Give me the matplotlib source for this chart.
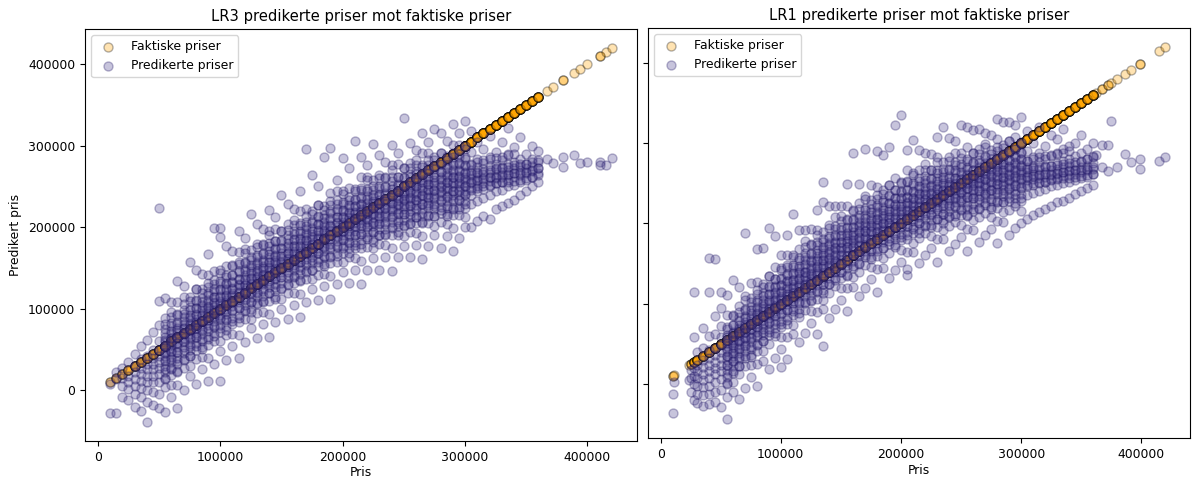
import matplotlib.pyplot as plt

# Priser i tusen kroner. Hver kolonne: faktisk pris og de predikerte prisene for den
lr3_pris = [10, 15, 20, 25, 30, 35, 40, 45, 50, 55, 60, 65, 70, 75, 80, 85, 90, 95,
            100, 105, 110, 115, 120, 125, 130, 135, 140, 145, 150, 155, 160, 165,
            170, 175, 180, 185, 190, 195, 200, 205, 210, 215, 220, 225, 230, 235,
            240, 245, 250, 255, 260, 265, 270, 275, 280, 285, 290, 295, 300, 305,
            310, 315, 320, 325, 330, 335, 340, 345, 350, 355, 360, 367, 372, 380,
            389, 394, 400, 410, 415, 420]
lr3_pred = [
    [-28, 8], [-28, 14, 22], [-8, 6, 15, 28], [-12, 2, 10, 18, 35],
    [-20, -4, 6, 14, 22, 30, 45], [-25, -8, 3, 12, 20, 28, 38, 55],
    [-39, -14, 0, 10, 18, 26, 33, 42, 62], [-18, -2, 10, 18, 26, 33, 40, 50, 72],
    [-22, -4, 10, 20, 28, 35, 42, 50, 60, 80, 110, 224],
    [-27, 4, 15, 23, 30, 36, 42, 47, 53, 59, 66, 75, 89, 113],
    [-8, 7, 19, 27, 35, 41, 47, 52, 58, 64, 71, 79, 90, 109],
    [-21, 7, 23, 32, 40, 47, 53, 58, 64, 70, 76, 84, 94, 109, 134],
    [0, 28, 38, 46, 53, 59, 64, 70, 76, 82, 90, 99, 114, 128],
    [18, 30, 42, 50, 57, 63, 69, 74, 80, 86, 93, 102, 114, 158],
    [8, 39, 50, 58, 65, 71, 77, 82, 88, 94, 101, 110, 124, 148],
    [26, 41, 53, 61, 69, 75, 81, 86, 92, 98, 105, 113, 124, 143],
    [12, 40, 56, 65, 73, 80, 86, 91, 97, 103, 109, 117, 127, 142, 167],
    [32, 60, 70, 78, 85, 91, 96, 102, 108, 114, 122, 131, 146, 199],
    [12, 48, 60, 72, 80, 87, 93, 99, 104, 110, 116, 123, 132, 144, 188, 199],
    [37, 68, 79, 87, 94, 100, 106, 111, 117, 123, 130, 139, 153, 177],
    [54, 69, 81, 89, 97, 103, 109, 114, 120, 126, 133, 141, 152, 171],
    [40, 68, 84, 93, 101, 108, 114, 119, 125, 131, 137, 145, 155, 170, 195],
    [59, 87, 97, 105, 112, 118, 123, 129, 135, 141, 149, 158, 173, 187],
    [76, 88, 100, 108, 115, 121, 127, 132, 138, 144, 151, 160, 172, 216],
    [64, 95, 106, 114, 121, 127, 133, 138, 144, 150, 157, 166, 180, 204],
    [81, 96, 108, 116, 124, 130, 136, 141, 147, 153, 160, 168, 179, 198],
    [66, 94, 110, 119, 127, 134, 140, 145, 151, 157, 163, 171, 181, 196, 221],
    [84, 112, 122, 130, 137, 143, 148, 154, 160, 166, 174, 183, 198, 212],
    [100, 112, 124, 132, 139, 145, 151, 156, 162, 168, 175, 184, 196, 240],
    [88, 119, 130, 138, 145, 151, 157, 162, 168, 174, 181, 190, 204, 228],
    [105, 120, 132, 140, 148, 154, 160, 165, 171, 177, 184, 192, 203, 222],
    [90, 118, 134, 143, 151, 158, 164, 169, 175, 181, 187, 195, 205, 220, 245],
    [108, 136, 146, 154, 161, 167, 172, 178, 184, 190, 198, 207, 222, 296],
    [124, 136, 148, 156, 163, 169, 175, 180, 186, 192, 199, 208, 220, 264],
    [111, 142, 153, 161, 168, 174, 180, 185, 191, 197, 204, 213, 227, 251],
    [128, 143, 155, 163, 171, 177, 183, 188, 194, 200, 207, 215, 226, 286],
    [112, 140, 156, 165, 173, 180, 186, 191, 197, 203, 209, 217, 227, 242, 297],
    [130, 158, 168, 176, 183, 189, 194, 200, 206, 212, 220, 229, 244, 258],
    [145, 157, 169, 177, 184, 190, 196, 201, 207, 213, 220, 229, 241, 285],
    [132, 163, 174, 182, 189, 195, 201, 206, 212, 218, 225, 234, 248, 272],
    [147, 162, 174, 182, 190, 196, 202, 207, 213, 219, 226, 234, 245, 306],
    [131, 159, 175, 184, 192, 199, 205, 210, 216, 222, 228, 236, 246, 261, 286],
    [148, 176, 186, 194, 201, 207, 212, 218, 224, 230, 238, 247, 262, 276],
    [162, 174, 186, 194, 201, 207, 213, 218, 224, 230, 237, 246, 258, 302],
    [148, 179, 190, 198, 205, 211, 217, 222, 228, 234, 241, 250, 264, 288],
    [163, 178, 190, 198, 206, 212, 218, 223, 229, 235, 242, 250, 261, 280],
    [146, 174, 190, 199, 207, 214, 220, 225, 231, 237, 243, 251, 261, 276, 301],
    [163, 191, 201, 209, 216, 222, 227, 233, 239, 245, 253, 262, 277, 291],
    [177, 189, 201, 209, 216, 222, 228, 233, 239, 245, 252, 261, 273, 334],
    [163, 194, 205, 213, 220, 226, 232, 237, 243, 249, 256, 265, 279, 303],
    [178, 193, 205, 213, 221, 227, 233, 238, 244, 250, 257, 265, 276, 295],
    [161, 189, 205, 214, 222, 229, 235, 240, 246, 252, 258, 266, 276, 291, 316],
    [177, 205, 215, 223, 230, 236, 241, 247, 253, 259, 267, 276, 291, 305],
    [190, 202, 214, 222, 229, 235, 241, 246, 252, 258, 265, 274, 286, 320],
    [175, 206, 217, 225, 232, 238, 244, 249, 255, 261, 268, 277, 291, 315],
    [189, 204, 216, 224, 232, 238, 244, 249, 255, 261, 268, 276, 287, 306],
    [171, 199, 215, 224, 232, 239, 245, 250, 256, 262, 268, 276, 286, 301, 326],
    [187, 215, 225, 233, 240, 246, 251, 257, 263, 269, 277, 286, 301, 315],
    [200, 212, 224, 232, 239, 245, 251, 256, 262, 268, 275, 284, 296, 330],
    [200, 228, 240, 248, 254, 259, 264, 270, 278, 292, 318],
    [208, 232, 244, 251, 257, 262, 267, 274, 284, 305],
    [214, 236, 247, 254, 260, 265, 271, 279, 296],
    [210, 240, 250, 257, 262, 268, 275, 286, 312],
    [222, 244, 254, 260, 265, 271, 278, 292],
    [226, 246, 256, 262, 268, 274, 283, 305],
    [230, 250, 258, 264, 270, 277, 290, 322],
    [234, 252, 261, 267, 272, 280, 298],
    [240, 256, 264, 270, 275, 284, 310],
    [244, 258, 266, 272, 278, 290],
    [250, 262, 269, 275, 284, 300],
    [256, 266, 273, 280, 294],
    [284], [279], [274, 286], [288], [279], [280], [280, 276], [276], [285],
]

# flere punkter i den tette kjernen av skyen
kjerne_pris = [55, 60, 65, 70, 75, 80, 85, 90, 95, 100, 105, 110, 115, 120, 125, 130,
               135, 140, 145, 150, 155, 160, 165, 170, 175, 180, 185, 190, 195, 200,
               205, 210, 215, 220, 225, 230, 235, 240, 245, 250, 255, 260, 265, 270,
               275, 280, 285, 290, 295, 300, 305, 310, 315, 320, 325, 330, 335, 340,
               345, 350, 355, 360]
lr3_kjerne = [
    [14, 26, 37, 46, 54, 62, 71, 82], [26, 38, 48, 56, 64, 73, 83, 96],
    [24, 36, 47, 58, 66, 74, 82, 92], [37, 50, 60, 69, 76, 85, 94, 106],
    [42, 54, 65, 74, 82, 90, 99, 110], [54, 66, 76, 84, 92, 101, 111, 124],
    [51, 63, 74, 85, 93, 101, 109, 119], [63, 76, 86, 95, 102, 111, 120, 132],
    [67, 79, 90, 99, 107, 115, 124, 135], [77, 89, 99, 107, 115, 124, 134, 147],
    [74, 86, 97, 108, 116, 124, 132, 142], [85, 98, 108, 117, 124, 133, 142, 154],
    [89, 101, 112, 121, 129, 137, 146, 157], [99, 111, 121, 129, 137, 146, 156, 169],
    [96, 108, 119, 130, 138, 146, 154, 164], [107, 120, 130, 139, 146, 155, 164, 176],
    [110, 122, 133, 142, 150, 158, 167, 178], [120, 132, 142, 150, 158, 167, 177, 190],
    [115, 127, 138, 149, 157, 165, 173, 183], [126, 139, 149, 158, 165, 174, 183, 195],
    [129, 141, 152, 161, 169, 177, 186, 197], [139, 151, 161, 169, 177, 186, 196, 209],
    [135, 147, 158, 169, 177, 185, 193, 203], [145, 158, 168, 177, 184, 193, 202, 214],
    [148, 160, 171, 180, 188, 196, 205, 216], [157, 169, 179, 187, 195, 204, 214, 227],
    [153, 165, 176, 187, 195, 203, 211, 221], [163, 176, 186, 195, 202, 211, 220, 232],
    [165, 177, 188, 197, 205, 213, 222, 233], [174, 186, 196, 204, 212, 221, 231, 244],
    [169, 181, 192, 203, 211, 219, 227, 237], [178, 191, 201, 210, 217, 226, 235, 247],
    [180, 192, 203, 212, 220, 228, 237, 248], [188, 200, 210, 218, 226, 235, 245, 258],
    [182, 194, 205, 216, 224, 232, 240, 250], [191, 204, 214, 223, 230, 239, 248, 260],
    [192, 204, 215, 224, 232, 240, 249, 260], [200, 212, 222, 230, 238, 247, 257, 270],
    [194, 206, 217, 228, 236, 244, 252, 262], [203, 216, 226, 235, 242, 251, 260, 272],
    [204, 216, 227, 236, 244, 252, 261, 272], [212, 224, 234, 242, 250, 259, 269, 282],
    [206, 218, 229, 240, 248, 256, 264, 274], [214, 227, 237, 246, 253, 262, 271, 283],
    [214, 226, 237, 246, 254, 262, 271, 282], [221, 233, 243, 251, 259, 268, 278, 291],
    [214, 226, 237, 248, 256, 264, 272, 282], [222, 235, 245, 254, 261, 270, 279, 291],
    [222, 234, 245, 254, 262, 270, 279, 290], [229, 241, 251, 259, 267, 276, 286, 299],
    [246, 256, 266, 276], [248, 258, 268, 280], [250, 259, 268, 282],
    [252, 261, 270, 284], [254, 262, 272, 285], [255, 264, 273, 286],
    [256, 265, 274, 288], [257, 266, 276, 290], [258, 267, 277],
    [260, 268, 278], [262, 270, 280], [264, 272, 282],
]

lr1_pris = [10, 11, 24, 25, 28, 30, 35, 40, 45, 50, 55, 60, 65, 70, 75, 80, 85, 90,
            95, 100, 105, 110, 115, 120, 125, 130, 135, 140, 145, 150, 155, 160,
            165, 170, 175, 180, 185, 190, 195, 200, 205, 210, 215, 220, 225, 230,
            235, 240, 245, 250, 255, 260, 265, 270, 275, 280, 285, 290, 295, 300,
            305, 310, 315, 320, 325, 330, 335, 340, 345, 350, 355, 360, 362, 367,
            372, 375, 380, 386, 391, 399, 415, 420]
lr1_pred = [
    [-36, -12], [2], [5], [-10, 8, 18], [-20, 0, 10, 20, 58, 115],
    [-24, -12, -2, 8, 16, 24, 40], [-27, -14, -4, 5, 13, 21, 30, 45, 70],
    [-25, -12, -2, 8, 16, 24, 32, 42, 60, 115, 157],
    [-22, -10, 2, 12, 20, 28, 36, 45, 62, 85, 156],
    [-28, -8, 6, 16, 24, 32, 40, 48, 58, 72, 95, 115],
    [-44, -16, 0, 9, 17, 24, 30, 35, 41, 47, 53, 61, 71, 86, 111],
    [-10, 2, 14, 22, 29, 35, 41, 46, 52, 58, 65, 74, 86, 130],
    [-19, 12, 23, 31, 38, 44, 50, 55, 61, 67, 74, 83, 97, 121],
    [-5, 23, 33, 41, 48, 54, 59, 65, 71, 77, 85, 94, 109, 188],
    [9, 24, 36, 44, 52, 58, 64, 69, 75, 81, 88, 96, 107, 126],
    [-3, 25, 41, 50, 58, 65, 71, 76, 82, 88, 94, 102, 112, 127, 168],
    [29, 41, 53, 61, 68, 74, 80, 85, 91, 97, 104, 113, 125, 169],
    [19, 50, 61, 69, 76, 82, 88, 93, 99, 105, 112, 121, 135, 194],
    [32, 60, 70, 78, 85, 91, 96, 102, 108, 114, 122, 131, 146, 184],
    [21, 44, 59, 71, 79, 87, 93, 99, 104, 110, 116, 123, 131, 142, 161],
    [31, 59, 75, 84, 92, 99, 105, 110, 116, 122, 128, 136, 146, 161, 186],
    [62, 74, 86, 94, 101, 107, 113, 118, 124, 130, 137, 146, 158, 212],
    [52, 83, 94, 102, 109, 115, 121, 126, 132, 138, 145, 154, 168, 192],
    [64, 92, 102, 110, 117, 123, 128, 134, 140, 146, 154, 163, 178, 192],
    [76, 91, 103, 111, 119, 125, 131, 136, 142, 148, 155, 163, 174, 193],
    [62, 90, 106, 115, 123, 130, 136, 141, 147, 153, 159, 167, 177, 192, 217],
    [47, 93, 105, 117, 125, 132, 138, 144, 149, 155, 161, 168, 177, 189, 227, 252],
    [82, 113, 124, 132, 139, 145, 151, 156, 162, 168, 175, 184, 198, 222],
    [94, 122, 132, 140, 147, 153, 158, 164, 170, 176, 184, 193, 208, 222],
    [105, 120, 132, 140, 148, 154, 160, 165, 171, 177, 184, 192, 203, 222],
    [91, 119, 135, 144, 152, 159, 165, 170, 176, 182, 188, 196, 206, 221, 249],
    [121, 133, 145, 153, 160, 166, 172, 177, 183, 189, 196, 205, 217, 288],
    [109, 140, 151, 159, 166, 172, 178, 183, 189, 195, 202, 211, 225, 249],
    [120, 148, 158, 166, 173, 179, 184, 190, 196, 202, 210, 219, 234, 292],
    [131, 146, 158, 166, 174, 180, 186, 191, 197, 203, 210, 218, 229, 248],
    [115, 143, 159, 168, 176, 183, 189, 194, 200, 206, 212, 220, 230, 245, 290],
    [145, 157, 169, 177, 184, 190, 196, 201, 207, 213, 220, 229, 241, 285],
    [132, 163, 174, 182, 189, 195, 201, 206, 212, 218, 225, 234, 248, 295],
    [142, 170, 180, 188, 195, 201, 206, 212, 218, 224, 232, 241, 256, 323],
    [152, 167, 179, 187, 195, 201, 207, 212, 218, 224, 231, 239, 250, 335],
    [136, 143, 164, 180, 189, 197, 204, 210, 215, 221, 227, 233, 241, 251, 266, 291],
    [164, 176, 188, 196, 203, 209, 215, 220, 226, 232, 239, 248, 260, 304],
    [151, 182, 193, 201, 208, 214, 220, 225, 231, 237, 244, 253, 267, 291],
    [160, 188, 198, 206, 213, 219, 224, 230, 236, 242, 250, 259, 274, 288],
    [169, 184, 196, 204, 212, 218, 224, 229, 235, 241, 248, 256, 267, 286],
    [152, 180, 196, 205, 213, 220, 226, 231, 237, 243, 249, 257, 267, 282, 307],
    [180, 192, 204, 212, 219, 225, 231, 236, 242, 248, 255, 264, 276, 320],
    [166, 197, 208, 216, 223, 229, 235, 240, 246, 252, 259, 268, 282, 306],
    [174, 202, 212, 220, 227, 233, 238, 244, 250, 256, 264, 273, 288, 302],
    [183, 198, 210, 218, 226, 232, 238, 243, 249, 255, 262, 270, 281, 323],
    [165, 193, 209, 218, 226, 233, 239, 244, 250, 256, 262, 270, 280, 295, 320],
    [192, 204, 216, 224, 231, 237, 243, 248, 254, 260, 267, 276, 288, 316],
    [177, 208, 219, 227, 234, 240, 246, 251, 257, 263, 270, 279, 293, 317],
    [185, 213, 223, 231, 238, 244, 249, 255, 261, 267, 275, 284, 299, 313],
    [193, 208, 220, 228, 236, 242, 248, 253, 259, 265, 272, 280, 291, 310],
    [175, 203, 219, 228, 236, 243, 249, 254, 260, 266, 272, 280, 290, 305, 330],
    [202, 214, 226, 234, 241, 247, 253, 258, 264, 270, 277, 286, 298, 326],
    [186, 217, 228, 236, 243, 249, 255, 260, 266, 272, 279, 288, 302, 326],
    [194, 222, 232, 240, 247, 253, 258, 264, 270, 276, 284, 293, 308, 322],
    [201, 216, 228, 236, 244, 250, 256, 261, 267, 273, 280, 288, 299, 333],
    [205, 235, 246, 254, 259, 264, 270, 278, 290, 315],
    [210, 238, 248, 255, 261, 266, 272, 282, 300],
    [214, 240, 250, 257, 262, 268, 276, 288, 320],
    [218, 243, 252, 258, 264, 270, 280, 296],
    [222, 246, 255, 260, 266, 272, 284, 310],
    [226, 248, 257, 262, 268, 275, 288, 305],
    [228, 250, 259, 264, 270, 278, 292, 318],
    [232, 252, 260, 266, 271, 280, 296],
    [236, 254, 262, 267, 273, 284, 300],
    [240, 256, 264, 270, 276, 288, 310],
    [244, 258, 266, 272, 280, 292],
    [248, 262, 268, 275, 284, 300],
    [285], [297, 270], [297, 265], [328], [270], [286], [276], [268, 280], [278], [282],
]
lr1_kjerne = [
    [1, 13, 24, 35, 43, 51, 59, 69], [16, 29, 39, 48, 55, 64, 73, 85],
    [22, 34, 45, 54, 62, 70, 79, 90], [35, 47, 57, 65, 73, 82, 92, 105],
    [34, 46, 57, 68, 76, 84, 92, 102], [48, 61, 71, 80, 87, 96, 105, 117],
    [53, 65, 76, 85, 93, 101, 110, 121], [65, 77, 87, 95, 103, 112, 122, 135],
    [63, 75, 86, 97, 105, 113, 121, 131], [75, 88, 98, 107, 114, 123, 132, 144],
    [80, 92, 103, 112, 120, 128, 137, 148], [91, 103, 113, 121, 129, 138, 148, 161],
    [89, 101, 112, 123, 131, 139, 147, 157], [101, 114, 124, 133, 140, 149, 158, 170],
    [105, 117, 128, 137, 145, 153, 162, 173], [116, 128, 138, 146, 154, 163, 173, 186],
    [113, 125, 136, 147, 155, 163, 171, 181], [125, 138, 148, 157, 164, 173, 182, 194],
    [129, 141, 152, 161, 169, 177, 186, 197], [139, 151, 161, 169, 177, 186, 196, 209],
    [136, 148, 159, 170, 178, 186, 194, 204], [147, 160, 170, 179, 186, 195, 204, 216],
    [150, 162, 173, 182, 190, 198, 207, 218], [160, 172, 182, 190, 198, 207, 217, 230],
    [156, 168, 179, 190, 198, 206, 214, 224], [166, 179, 189, 198, 205, 214, 223, 235],
    [169, 181, 192, 201, 209, 217, 226, 237], [178, 190, 200, 208, 216, 225, 235, 248],
    [173, 185, 196, 207, 215, 223, 231, 241], [183, 196, 206, 215, 222, 231, 240, 252],
    [185, 197, 208, 217, 225, 233, 242, 253], [193, 205, 215, 223, 231, 240, 250, 263],
    [188, 200, 211, 222, 230, 238, 246, 256], [197, 210, 220, 229, 236, 245, 254, 266],
    [198, 210, 221, 230, 238, 246, 255, 266], [206, 218, 228, 236, 244, 253, 263, 276],
    [200, 212, 223, 234, 242, 250, 258, 268], [209, 222, 232, 241, 248, 257, 266, 278],
    [209, 221, 232, 241, 249, 257, 266, 277], [217, 229, 239, 247, 255, 264, 274, 287],
    [210, 222, 233, 244, 252, 260, 268, 278], [218, 231, 241, 250, 257, 266, 275, 287],
    [218, 230, 241, 250, 258, 266, 275, 286], [225, 237, 247, 255, 263, 272, 282, 295],
    [218, 230, 241, 252, 260, 268, 276, 286], [226, 239, 249, 258, 265, 274, 283, 295],
    [226, 238, 249, 258, 266, 274, 283, 294], [232, 244, 254, 262, 270, 279, 289, 302],
    [225, 237, 248, 259, 267, 275, 283, 293], [232, 245, 255, 264, 271, 280, 289, 301],
    [248, 258, 268, 278], [250, 259, 269, 280], [251, 260, 270, 282],
    [252, 261, 271, 284], [254, 262, 272, 285], [255, 263, 273, 286],
    [256, 264, 274, 288], [257, 265, 275, 290], [258, 266, 276],
    [259, 267, 278], [260, 268, 280], [262, 270, 282],
]


def flatten(pris, pred):
    x = []
    y = []
    for p, row in zip(pris, pred):
        for v in row:
            x.append(p * 1000)
            y.append(v * 1000)
    return x, y


plt.rcParams['font.size'] = 8.9

fig = plt.figure(figsize=(11.96, 4.79), dpi=100)
ax1 = fig.add_axes([85 / 1196, 1 - 441 / 479, 552 / 1196, 412 / 479])
ax2 = fig.add_axes([648 / 1196, 1 - 438 / 479, 542 / 1196, 410 / 479])

panels = [(ax1, lr3_pris, lr3_pred, lr3_kjerne, 'LR3 predikerte priser mot faktiske priser'),
          (ax2, lr1_pris, lr1_pred, lr1_kjerne, 'LR1 predikerte priser mot faktiske priser')]
for ax, pris, pred, kjerne, title in panels:
    x, y = flatten(pris, pred)
    xk, yk = flatten(kjerne_pris, kjerne)
    x = x + xk
    y = y + yk
    ax.scatter(x, x, s=42, color='orange', edgecolors='black', alpha=0.3, label='Faktiske priser')
    ax.scatter(x, y, s=42, color='darkslateblue', edgecolors='#1a1060', alpha=0.3,
               label='Predikerte priser')
    ax.set_title(title, fontsize=10.6)
    ax.set_xlabel('Pris', labelpad=2)
    ax.legend(loc='upper left')

ax1.set_ylabel('Predikert pris')
ax2.tick_params(axis='y', labelleft=False)

fig.savefig('out.png', dpi=100)
